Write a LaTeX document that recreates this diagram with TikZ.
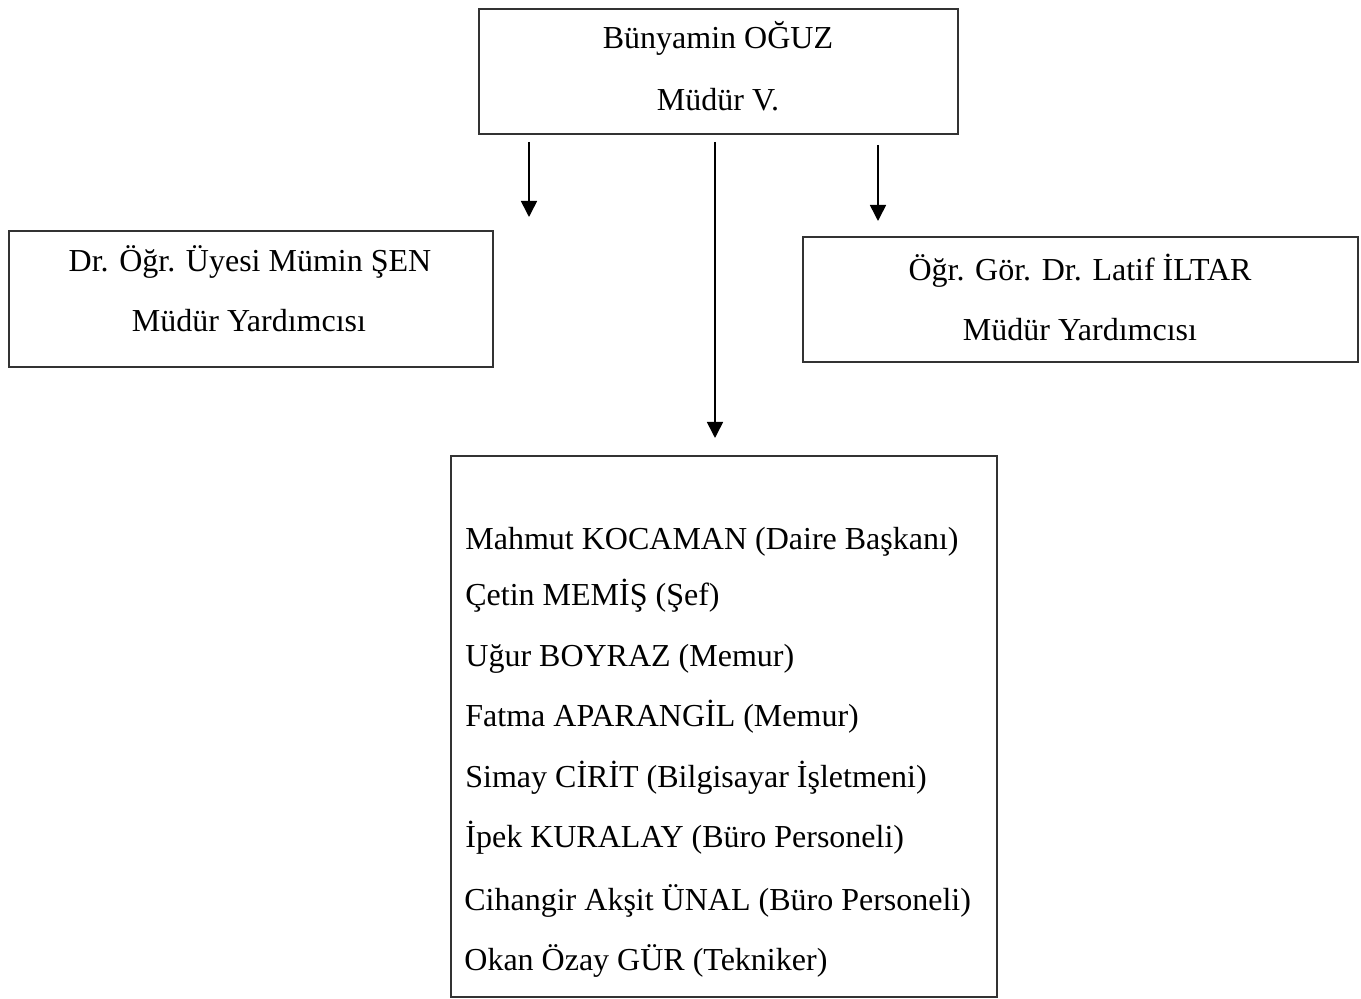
\documentclass[tikz,border=0pt]{standalone}
\usepackage{fontspec}
\setmainfont{Liberation Serif}
\usetikzlibrary{arrows.meta}
\begin{document}
\begin{tikzpicture}[x=0.5pt,y=-0.5pt,
  box/.style={draw=black!80, line width=0.9pt, rectangle, anchor=north west, inner sep=0pt},
  txt/.style={anchor=base, inner sep=0pt, font=\fontsize{16}{19}\selectfont},
  ltxt/.style={anchor=base west, inner sep=0pt, font=\fontsize{16}{19}\selectfont},
  arr/.style={line width=0.8pt, -{Triangle[length=8pt,width=8pt]}}]
\useasboundingbox (0,0) rectangle (1361,999);
\node[box, minimum width=239.5pt, minimum height=62.5pt] (top) at (478,8) {};
\node[box, minimum width=242pt, minimum height=68pt] (left) at (8,230) {};
\node[box, minimum width=277.5pt, minimum height=62.5pt] (right) at (802,236) {};
\node[box, minimum width=273pt, minimum height=270.5pt] (bottom) at (450,455) {};
\node[txt] (t1) at (718,49) {Bünyamin OĞUZ};
\node[txt] (t2) at (718,111) {Müdür V.};
\node[txt] (l1) at (250,272) {Dr. Öğr. Üyesi Mümin ŞEN};
\node[txt] (l2) at (249,332) {Müdür Yardımcısı};
\node[txt] (r1) at (1080,281) {Öğr. Gör. Dr. Latif İLTAR};
\node[txt] (r2) at (1080,341) {Müdür Yardımcısı};
\node[ltxt] (b1) at (465,550) {Mahmut KOCAMAN (Daire Başkanı)};
\node[ltxt] (b2) at (465,606) {Çetin MEMİŞ (Şef)};
\node[ltxt] (b3) at (465,667) {Uğur BOYRAZ (Memur)};
\node[ltxt] (b4) at (465,727) {Fatma APARANGİL (Memur)};
\node[ltxt] (b5) at (465,788) {Simay CİRİT (Bilgisayar İşletmeni)};
\node[ltxt] (b6) at (465,848) {İpek KURALAY (Büro Personeli)};
\node[ltxt] (b7) at (464,910) {Cihangir Akşit ÜNAL (Büro Personeli)};
\node[ltxt] (b8) at (464,970) {Okan Özay GÜR (Tekniker)};
\coordinate (ax1) at (529,0);
\coordinate (ax2) at (715,0);
\coordinate (ax3) at (878,0);
\draw[arr, shorten <=3.5pt, shorten >=6.5pt] (top.south -| ax1) -- (left.north -| ax1);
\draw[arr, shorten <=3.5pt, shorten >=8.5pt] (top.south -| ax2) -- (bottom.north -| ax2);
\draw[arr, shorten <=5pt, shorten >=7.5pt] (top.south -| ax3) -- (right.north -| ax3);
\end{tikzpicture}
\end{document}
